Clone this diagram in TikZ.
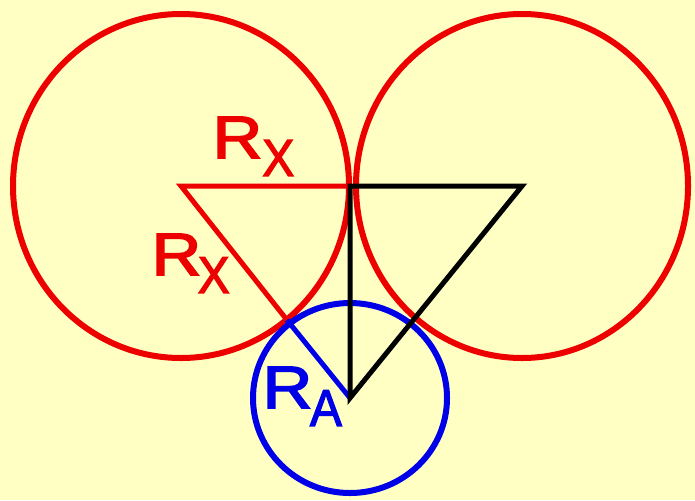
\documentclass[tikz,border=0pt]{standalone}
\usepackage{fontspec}
\setmainfont{Liberation Sans}
\newfontfamily\labfont{Liberation Sans}[FakeBold=2.5]
\usetikzlibrary{positioning}

\definecolor{paper}{RGB}{255,255,196}
\definecolor{ringred}{RGB}{236,0,0}
\definecolor{ringblue}{RGB}{0,0,232}

% radius label: letter with a dropped index
\newcommand{\radlab}[3][0em]{\scalebox{1.15}[1]{#2}\kern#1\raisebox{-0.3em}{\scalebox{0.8}[0.87]{#3}}}

\begin{document}
\begin{tikzpicture}[
  x=0.01cm, y=-0.01cm,
  ring/.style={line width=0.06cm},
  edge/.style={line width=0.05cm, line join=miter},
  lab/.style={font=\labfont\fontsize{17}{19}\selectfont, inner sep=0pt, anchor=base west}
]
\fill[paper] (0,0) rectangle (695,500);
\useasboundingbox (0,0) rectangle (695,500);

% centres and meeting points
\coordinate (cL) at (181,186);
\coordinate (cR) at (522,186);
\coordinate (cA) at (350,398);
\coordinate (top) at (350,186);
\coordinate (touch) at (287,320);

% circles
\draw[ring, ringred] (cL) circle [x radius=168, y radius=172];
\draw[ring, ringred] (cR) circle [x radius=166, y radius=172];
\draw[ring, ringblue] (cA) circle [x radius=97, y radius=95];

% triangles
\draw[edge, ringred] (touch) -- (cL) -- (top);
\draw[edge, ringblue] (touch) -- (cA);
\draw[edge, black] (top) -- (cR) -- (cA) -- cycle;

% labels
\node[lab, text=ringred] (rxtop) at (212,158) {\radlab{R}{X}};
\node[lab, text=ringred] (rxdiag) at (151,275) {\radlab[-0.06em]{R}{X}};
\node[lab, text=ringblue] (ra) at (262,408) {\radlab[-0.04em]{R}{A}};
\end{tikzpicture}
\end{document}
